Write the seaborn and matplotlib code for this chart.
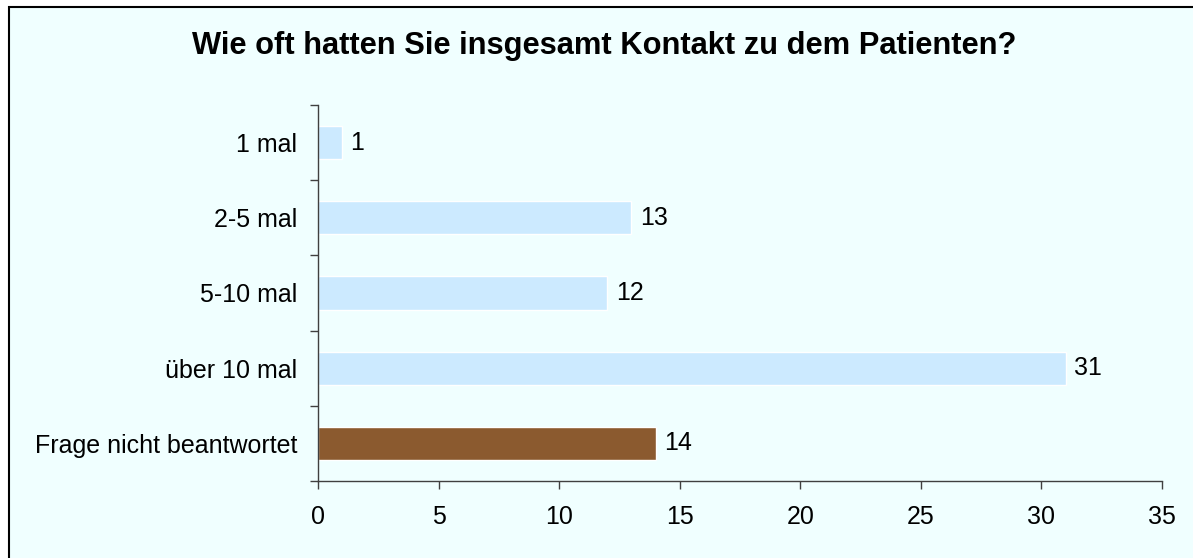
import pandas as pd
import seaborn as sns
import matplotlib.pyplot as plt
import matplotlib.patches as mpatches

# Daten
kategorien = ["1 mal", "2-5 mal", "5-10 mal", "über 10 mal", "Frage nicht beantwortet"]
anzahl = [1, 13, 12, 31, 14]
farben = ["#CCEAFF", "#CCEAFF", "#CCEAFF", "#CCEAFF", "#8B5A2F"]
x_ticks = [0, 5, 10, 15, 20, 25, 30, 35]
titel = "Wie oft hatten Sie insgesamt Kontakt zu dem Patienten?"

df = pd.DataFrame({"kategorie": kategorien, "anzahl": anzahl})

sns.set_style("ticks")
plt.rcParams["font.family"] = ["Liberation Sans", "DejaVu Sans"]
plt.rcParams["text.color"] = "black"
plt.rcParams["xtick.labelcolor"] = "black"
plt.rcParams["ytick.labelcolor"] = "black"

W, H = 1193, 558
fig = plt.figure(figsize=(W / 100, H / 100), dpi=100, facecolor="white")

# Rahmen / Hintergrund (rechts und unten ausserhalb des Bildes)
bg = mpatches.Rectangle((9 / W, -0.1), 1.1, 1.1 - 7 / H, transform=fig.transFigure,
                        facecolor="#F0FFFF", edgecolor="black", linewidth=1.5, zorder=-1)
fig.patches.append(bg)

ax = fig.add_axes([318 / W, (H - 481) / H, (1162 - 318) / W, (481 - 105) / H])
ax.set_facecolor("none")

sns.barplot(data=df, y="kategorie", x="anzahl", hue="kategorie", palette=farben,
            order=kategorien, hue_order=kategorien, legend=False, width=0.44,
            orient="h", ax=ax, saturation=1)

for cont in ax.containers:
    ax.bar_label(cont, padding=6, fontsize=18, color="black")

ax.set_xlim(0, 35)
ax.set_ylim(len(kategorien) - 0.5, -0.5)
ax.set_xticks(x_ticks)
ax.set_xlabel("")
ax.set_ylabel("")

# Trennstriche zwischen Kategorien
ax.set_yticks([i + 0.5 for i in range(-1, len(kategorien))], minor=True)
ax.tick_params(axis="y", which="major", length=0, pad=15, labelsize=18)
ax.tick_params(axis="y", which="minor", length=6, width=1, color="#404040")
ax.tick_params(axis="x", length=6, width=1, color="#404040", pad=11, labelsize=18)

for side in ["top", "right"]:
    ax.spines[side].set_visible(False)
for side in ["left", "bottom"]:
    ax.spines[side].set_color("#404040")
    ax.spines[side].set_linewidth(1)

fig.text(604 / W, 1 - 46 / H, titel, ha="center", va="center",
         fontsize=22.2, fontweight="bold")

plt.savefig("out.png", dpi=100)
